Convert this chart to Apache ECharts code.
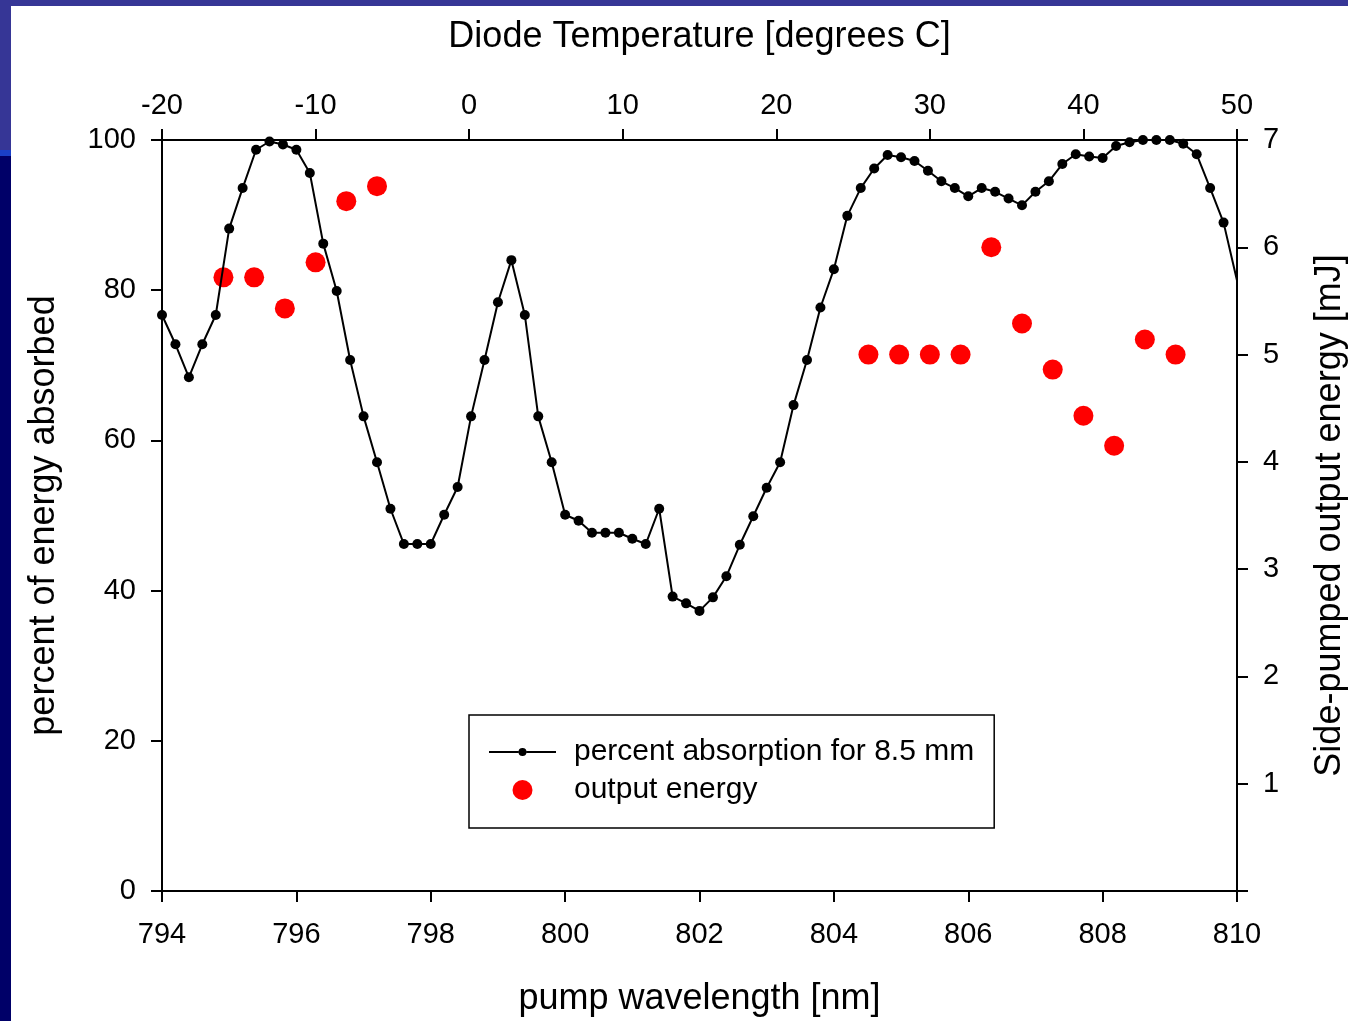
<!DOCTYPE html>
<html>
<head>
<meta charset="utf-8">
<script src="https://cdn.jsdelivr.net/npm/echarts@6/dist/echarts.min.js"></script>
<style>
  html, body { margin: 0; padding: 0; background: #ffffff; }
  #main { width: 1348px; height: 1021px; }
</style>
</head>
<body>
<div id="main"></div>
<script>
// pump wavelength [nm] for the absorption curve
var wavelengths = [
    794.0, 794.2, 794.4, 794.6, 794.8, 795.0, 795.2, 795.4, 795.6, 795.8,
    796.0, 796.2, 796.4, 796.6, 796.8, 797.0, 797.2, 797.4, 797.6, 797.8,
    798.0, 798.2, 798.4, 798.6, 798.8, 799.0, 799.2, 799.4, 799.6, 799.8,
    800.0, 800.2, 800.4, 800.6, 800.8, 801.0, 801.2, 801.4, 801.6, 801.8,
    802.0, 802.2, 802.4, 802.6, 802.8, 803.0, 803.2, 803.4, 803.6, 803.8,
    804.0, 804.2, 804.4, 804.6, 804.8, 805.0, 805.2, 805.4, 805.6, 805.8,
    806.0, 806.2, 806.4, 806.6, 806.8, 807.0, 807.2, 807.4, 807.6, 807.8,
    808.0, 808.2, 808.4, 808.6, 808.8, 809.0, 809.2, 809.4, 809.6, 809.8,
    810.2
];
// percent of energy absorbed
var absorption = [
    76.7, 72.8, 68.4, 72.8, 76.7, 88.2, 93.6, 98.7, 99.8, 99.4,
    98.7, 95.6, 86.2, 79.9, 70.7, 63.2, 57.1, 50.9, 46.2, 46.2,
    46.2, 50.1, 53.8, 63.2, 70.7, 78.4, 84.0, 76.7, 63.2, 57.1,
    50.1, 49.3, 47.7, 47.7, 47.7, 46.9, 46.2, 50.9, 39.2, 38.3,
    37.3, 39.1, 41.9, 46.1, 49.9, 53.7, 57.1, 64.7, 70.7, 77.7,
    82.8, 89.9, 93.6, 96.2, 98.0, 97.7, 97.2, 95.9, 94.5, 93.6,
    92.5, 93.6, 93.1, 92.2, 91.3, 93.1, 94.5, 96.8, 98.1, 97.8,
    97.6, 99.2, 99.7, 100, 100, 100, 99.5, 98.1, 93.6, 89.0,
    73.6
];
// diode temperature [degrees C] and side-pumped output energy [mJ]
var temperatures = [-16, -14, -12, -10, -8, -6, 26, 28, 30, 32, 34, 36, 38, 40, 42, 44, 46];
var energy = [5.72, 5.72, 5.43, 5.86, 6.43, 6.57, 5.00, 5.00, 5.00, 5.00, 6.00, 5.29, 4.86, 4.43, 4.15, 5.14, 5.00];

var absData = [];
for (var i = 0; i < wavelengths.length; i++) {
    absData.push([wavelengths[i], absorption[i]]);
}
var energyData = [];
for (var j = 0; j < temperatures.length; j++) {
    energyData.push([temperatures[j], energy[j]]);
}

var font = 'Liberation Sans';
var axisLine = {show: true, onZero: false, lineStyle: {color: '#000', width: 2}};
var axisTick = {show: true, inside: false, length: 11, lineStyle: {color: '#000', width: 2}};
var labelStyle = {color: '#000', fontSize: 29, fontFamily: font};
var nameStyle = {color: '#000', fontSize: 36, fontFamily: font};

var chart = echarts.init(document.getElementById('main'), null, {renderer: 'canvas'});
chart.setOption({
    backgroundColor: '#ffffff',
    animation: false,
    graphic: [
        {type: 'rect', left: 0, top: 0, shape: {width: 1348, height: 6}, style: {fill: '#363696'}},
        {type: 'rect', left: 0, top: 0, shape: {width: 11, height: 150}, style: {fill: '#363696'}},
        {type: 'rect', left: 0, top: 150, shape: {width: 11, height: 6}, style: {fill: '#1a40c8'}},
        {type: 'rect', left: 0, top: 156, shape: {width: 11, height: 865}, style: {fill: '#000068'}}
    ],
    grid: {left: 162, right: 111, top: 140, bottom: 130, containLabel: false, outerBoundsMode: 'none'},
    legend: {
        orient: 'vertical',
        left: 469,
        top: 715,
        padding: [22, 20, 23, 20],
        borderColor: '#000',
        borderWidth: 1.5,
        itemWidth: 67,
        itemHeight: 20,
        itemGap: 8,
        textStyle: {color: '#000', fontSize: 30, fontFamily: font, lineHeight: 30, padding: [0, 0, 0, 13]},
        data: [
            {name: 'percent absorption for 8.5 mm',
             icon: 'path://M0,9 L29.5,9 L29.5,11 L0,11 Z M37.5,9 L67,9 L67,11 L37.5,11 Z M29.5,10 A4,4 0 1,1 37.5,10 A4,4 0 1,1 29.5,10 Z'},
            {name: 'output energy', icon: 'circle'}
        ]
    },
    xAxis: [{
        type: 'value',
        position: 'bottom',
        min: 794, max: 810, interval: 2,
        name: 'pump wavelength [nm]',
        nameLocation: 'middle',
        nameGap: 90,
        nameTextStyle: nameStyle,
        axisLine: axisLine,
        axisTick: axisTick,
        axisLabel: Object.assign({margin: 29}, labelStyle),
        splitLine: {show: false}
    }, {
        type: 'value',
        position: 'top',
        min: -20, max: 50, interval: 10,
        name: 'Diode Temperature [degrees C]',
        nameLocation: 'middle',
        nameGap: 85,
        nameTextStyle: nameStyle,
        axisLine: axisLine,
        axisTick: axisTick,
        axisLabel: Object.assign({margin: 20}, labelStyle),
        splitLine: {show: false}
    }],
    yAxis: [{
        type: 'value',
        position: 'left',
        min: 0, max: 100, interval: 20,
        name: 'percent of energy absorbed',
        nameLocation: 'middle',
        nameGap: 100,
        nameRotate: 90,
        nameTextStyle: nameStyle,
        axisLine: axisLine,
        axisTick: axisTick,
        axisLabel: Object.assign({margin: 26}, labelStyle),
        splitLine: {show: false}
    }, {
        type: 'value',
        position: 'right',
        min: 0, max: 7, interval: 1,
        name: 'Side-pumped output energy [mJ]',
        nameLocation: 'middle',
        nameGap: 75,
        nameRotate: 90,
        nameTextStyle: nameStyle,
        axisLine: axisLine,
        axisTick: axisTick,
        axisLabel: Object.assign({margin: 26, formatter: function (v) { return v === 0 ? '' : v; }}, labelStyle),
        splitLine: {show: false}
    }],
    series: [{
        name: 'percent absorption for 8.5 mm',
        type: 'line',
        xAxisIndex: 0,
        yAxisIndex: 0,
        data: absData,
        clip: true,
        symbol: 'circle',
        symbolSize: 10,
        showAllSymbol: true,
        itemStyle: {color: '#000'},
        lineStyle: {color: '#000', width: 2}
    }, {
        name: 'output energy',
        type: 'scatter',
        xAxisIndex: 1,
        yAxisIndex: 1,
        data: energyData,
        symbol: 'circle',
        symbolSize: 20,
        itemStyle: {color: '#ff0000', opacity: 1}
    }]
});
</script>
</body>
</html>
